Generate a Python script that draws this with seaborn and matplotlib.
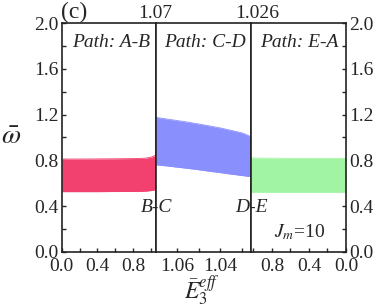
import numpy as np
import pandas as pd
import matplotlib
matplotlib.use("Agg")
import matplotlib.pyplot as plt
import seaborn as sns

# ---- data ----
# Path A-B (red band)
ab_x = [0.0, 0.2, 0.4, 0.6, 0.8, 0.9, 0.95, 1.0, 1.03, 1.055]
ab_upper = [0.812, 0.812, 0.813, 0.814, 0.816, 0.818, 0.821, 0.827, 0.836, 0.848]
ab_lower = [0.527, 0.527, 0.527, 0.528, 0.529, 0.530, 0.532, 0.536, 0.540, 0.545]
# Path C-D (blue band)
cd_x = [1.07, 1.065, 1.06, 1.055, 1.05, 1.045, 1.04, 1.035, 1.03, 1.028, 1.026]
cd_upper = [1.176, 1.162, 1.148, 1.134, 1.118, 1.101, 1.083, 1.062, 1.040, 1.025, 1.007]
cd_lower = [0.762, 0.752, 0.741, 0.730, 0.718, 0.705, 0.693, 0.680, 0.668, 0.663, 0.658]
# Path E-A (green band)
ea_x = [1.03, 1.0, 0.8, 0.6, 0.4, 0.2, 0.0]
ea_upper = [0.824, 0.821, 0.819, 0.818, 0.818, 0.818, 0.818]
ea_lower = [0.527, 0.527, 0.527, 0.527, 0.527, 0.527, 0.527]

panel_titles = ["Path: A-B", "Path: C-D", "Path: E-A"]
junction_labels = ["B-C", "D-E"]
top_labels = ["1.07", "1.026"]
y_ticks = [0.0, 0.4, 0.8, 1.2, 1.6, 2.0]
x_ticks_1 = [0.0, 0.4, 0.8]
x_ticks_2 = [1.06, 1.04]
x_ticks_3 = [0.8, 0.4, 0.0]

colors = ["#F2416F", "#8A8FFE", "#A2F4A5"]

sns.set_theme(style="ticks")
plt.rcParams["font.family"] = ["Liberation Serif", "DejaVu Serif"]
plt.rcParams["mathtext.fontset"] = "stix"
plt.rcParams["axes.linewidth"] = 1.2
plt.rcParams["axes.edgecolor"] = "#222222"

W, H = 374, 308
fig = plt.figure(figsize=(W / 100, H / 100), dpi=100)
bot = 1 - 252 / H
hgt = 229 / H
ax1 = fig.add_axes([61.7 / W, bot, 94 / W, hgt])
ax2 = fig.add_axes([155.7 / W, bot, 95 / W, hgt])
ax3 = fig.add_axes([250.7 / W, bot, 95.3 / W, hgt])

bands = [
    (ax1, ab_x, ab_upper, ab_lower, colors[0], (0, 1.055), x_ticks_1, np.arange(0, 1.05, 0.2)),
    (ax2, cd_x, cd_upper, cd_lower, colors[1], (1.07, 1.026), x_ticks_2, [1.05, 1.03]),
    (ax3, ea_x, ea_upper, ea_lower, colors[2], (1.03, 0), x_ticks_3, np.arange(0, 1.05, 0.2)),
]

fs = 14
for ax, xs, up, lo, col, xl, xt, xm in bands:
    df = pd.DataFrame({"x": xs + xs, "y": up + lo, "edge": ["u"] * len(xs) + ["l"] * len(xs)})
    sns.lineplot(data=df, x="x", y="y", units="edge", estimator=None, color=col,
                 lw=0.6, ax=ax, legend=False, sort=False)
    ax.fill_between(xs, lo, up, color=col, lw=0, alpha=1)
    ax.set_xlim(*xl)
    ax.set_ylim(0, 2.0)
    ax.set_xticks(xt)
    ax.set_xticks(xm, minor=True)
    ax.set_xticklabels([f"{v:.2f}" if ax is ax2 else f"{v:.1f}" for v in xt], fontsize=fs)
    ax.set_xlabel("")
    ax.set_ylabel("")
    for s in ax.spines.values():
        s.set_visible(True)
    ax.tick_params(axis="x", which="both", direction="in", length=3, width=1, top=False, pad=4)
    ax.tick_params(axis="y", which="both", direction="in", length=3, width=1, pad=2)
    ax.set_yticks(y_ticks)
    ax.set_yticks(np.arange(0.2, 2.0, 0.4), minor=True)

ax1.set_yticklabels([f"{v:.1f}" for v in y_ticks], fontsize=fs)
ax1.tick_params(axis="y", which="both", left=True, right=False)
ax2.tick_params(axis="y", which="both", left=False, right=False, labelleft=False)
ax3.tick_params(axis="y", which="both", left=False, right=True, labelleft=False, labelright=True)
ax3.set_yticklabels([f"{v:.1f}" for v in y_ticks], fontsize=fs)

for ax, t, xf in zip([ax1, ax2, ax3], panel_titles, [0.526, 0.514, 0.507]):
    ax.text(xf, 0.917, t, transform=ax.transAxes, ha="center", va="center",
            fontsize=fs, style="italic")

# junction labels
fig.text(156.7 / W, 1 - 208 / H, junction_labels[0], ha="center", va="center",
         fontsize=fs, style="italic")
fig.text(251.2 / W, 1 - 208 / H, junction_labels[1], ha="center", va="center",
         fontsize=fs, style="italic")
# top labels
fig.text(155.7 / W, 1 - 13 / H, top_labels[0], ha="center", va="center", fontsize=fs)
fig.text(257.5 / W, 1 - 13 / H, top_labels[1], ha="center", va="center", fontsize=fs)
# panel tag
fig.text(74 / W, 1 - 12 / H, "(c)", ha="center", va="center", fontsize=17)
# J_m annotation
fig.text(300 / W, 1 - 232 / H, r"$J_m$=10", ha="center", va="center", fontsize=fs)
# axis labels
fig.text(11 / W, 1 - 138 / H, r"$\bar{\omega}$", ha="center", va="center", fontsize=20)
fig.text(202 / W, 1 - 290 / H, r"$\bar{E}_3^{eff}$", ha="center", va="center", fontsize=17)

fig.savefig("out.png", dpi=100, facecolor="white")
